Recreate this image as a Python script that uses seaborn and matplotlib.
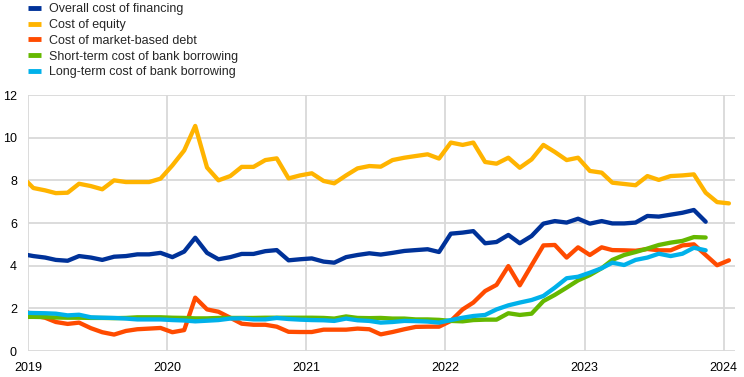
import matplotlib
matplotlib.use('Agg')
import matplotlib.pyplot as plt
import matplotlib.dates as mdates
import pandas as pd
import seaborn as sns

labels = ['Overall cost of financing', 'Cost of equity', 'Cost of market-based debt',
          'Short-term cost of bank borrowing', 'Long-term cost of bank borrowing']
colors = ['#003299', '#FFB400', '#FF4B00', '#65B800', '#00B1EA']

# mid-month observations, Dec 2018 .. Jan 2024
months = pd.date_range('2018-12-01', '2024-01-01', freq='MS') + pd.Timedelta(days=14)

overall = [4.55,
           4.45, 4.38, 4.27, 4.23, 4.45, 4.38, 4.27, 4.42, 4.45, 4.53,
           4.53, 4.60, 4.40, 4.66, 5.31, 4.60, 4.30, 4.40, 4.55, 4.55,
           4.68, 4.73, 4.25, 4.30, 4.34, 4.19, 4.14, 4.40, 4.50, 4.58,
           4.52, 4.60, 4.69, 4.73, 4.77, 4.64, 5.50, 5.55, 5.62, 5.05,
           5.11, 5.44, 5.05, 5.39, 5.97, 6.09, 6.02, 6.20, 5.97, 6.09,
           5.98, 5.98, 6.02, 6.33, 6.30, 6.39, 6.48, 6.61, 6.06]
equity = [8.20,
          7.64, 7.53, 7.40, 7.42, 7.84, 7.73, 7.58, 8.00, 7.92, 7.92,
          7.92, 8.08, 8.70, 9.40, 10.55, 8.60, 8.00, 8.20, 8.63, 8.63,
          8.95, 9.03, 8.09, 8.23, 8.33, 7.97, 7.86, 8.23, 8.56, 8.67,
          8.64, 8.95, 9.06, 9.14, 9.22, 9.02, 9.77, 9.66, 9.77, 8.86,
          8.78, 9.06, 8.59, 8.98, 9.66, 9.33, 8.95, 9.06, 8.44, 8.36,
          7.89, 7.83, 7.77, 8.20, 8.02, 8.20, 8.23, 8.28, 7.42, 6.98, 6.92]
market_debt = [1.98,
               1.66, 1.56, 1.36, 1.27, 1.33, 1.07, 0.88, 0.77, 0.94, 1.02,
               1.05, 1.08, 0.88, 0.98, 2.50, 1.95, 1.84, 1.56, 1.28, 1.23,
               1.23, 1.14, 0.90, 0.89, 0.89, 1.00, 1.00, 1.00, 1.05, 1.02,
               0.78, 0.89, 1.02, 1.13, 1.14, 1.14, 1.41, 1.95, 2.27, 2.81,
               3.10, 3.98, 3.08, 4.02, 4.95, 4.97, 4.38, 4.86, 4.50, 4.86,
               4.73, 4.72, 4.70, 4.78, 4.72, 4.72, 4.95, 5.00, 4.50, 4.02, 4.25]
short_bank = [1.60,
              1.60, 1.59, 1.57, 1.56, 1.56, 1.55, 1.55, 1.54, 1.55, 1.58,
              1.58, 1.58, 1.56, 1.55, 1.53, 1.53, 1.55, 1.55, 1.55, 1.55,
              1.56, 1.56, 1.56, 1.56, 1.56, 1.55, 1.52, 1.62, 1.55, 1.54,
              1.55, 1.52, 1.52, 1.48, 1.48, 1.46, 1.41, 1.39, 1.45, 1.47,
              1.47, 1.77, 1.69, 1.75, 2.34, 2.63, 2.97, 3.31, 3.56, 3.88,
              4.27, 4.50, 4.64, 4.80, 4.97, 5.08, 5.16, 5.34, 5.32]
long_bank = [1.80,
             1.78, 1.77, 1.75, 1.67, 1.70, 1.58, 1.56, 1.55, 1.52, 1.48,
             1.48, 1.48, 1.45, 1.43, 1.39, 1.42, 1.45, 1.52, 1.53, 1.48,
             1.48, 1.55, 1.50, 1.47, 1.45, 1.44, 1.41, 1.52, 1.44, 1.41,
             1.33, 1.36, 1.41, 1.40, 1.38, 1.33, 1.45, 1.56, 1.64, 1.69,
             1.95, 2.14, 2.27, 2.39, 2.58, 2.97, 3.41, 3.48, 3.67, 3.88,
             4.14, 4.03, 4.27, 4.38, 4.56, 4.45, 4.56, 4.84, 4.72]

frames = []
for name, vals in zip(labels, [overall, equity, market_debt, short_bank, long_bank]):
    frames.append(pd.DataFrame({'date': months[:len(vals)], 'value': vals, 'series': name}))
df = pd.concat(frames, ignore_index=True)

sns.set_theme(style='white')
plt.rcParams['font.family'] = ['Liberation Sans', 'DejaVu Sans']

fig = plt.figure(figsize=(7.44, 3.77), dpi=100)
ax = fig.add_axes([28 / 744, 26 / 377, 707 / 744, 256 / 377])

sns.lineplot(data=df, x='date', y='value', hue='series', hue_order=labels,
             palette=dict(zip(labels, colors)), linewidth=3.1, ax=ax)

ax.set_xlim(pd.Timestamp('2019-01-01'), pd.Timestamp('2024-01-31'))
ax.set_ylim(0, 12)
ax.set_yticks(range(0, 13, 2))
ax.xaxis.set_major_locator(mdates.YearLocator())
ax.xaxis.set_major_formatter(mdates.DateFormatter('%Y'))
ax.set_xlabel('')
ax.set_ylabel('')
ax.tick_params(length=0, pad=8, labelsize=9, colors='black')

ax.grid(True, color='#d9d9d9', linewidth=1.3)
ax.set_axisbelow(True)
for s in ax.spines.values():
    s.set_visible(False)

leg = ax.legend(loc='upper left', bbox_to_anchor=(28 / 744, 1 - 3 / 377),
                bbox_transform=fig.transFigure, frameon=False, fontsize=9,
                borderpad=0, borderaxespad=0, handlelength=1.05,
                handletextpad=0.6, labelspacing=0.31)
for line in leg.get_lines():
    line.set_linewidth(3.5)
    line.set_solid_capstyle('butt')

fig.savefig('out.png', dpi=100)
